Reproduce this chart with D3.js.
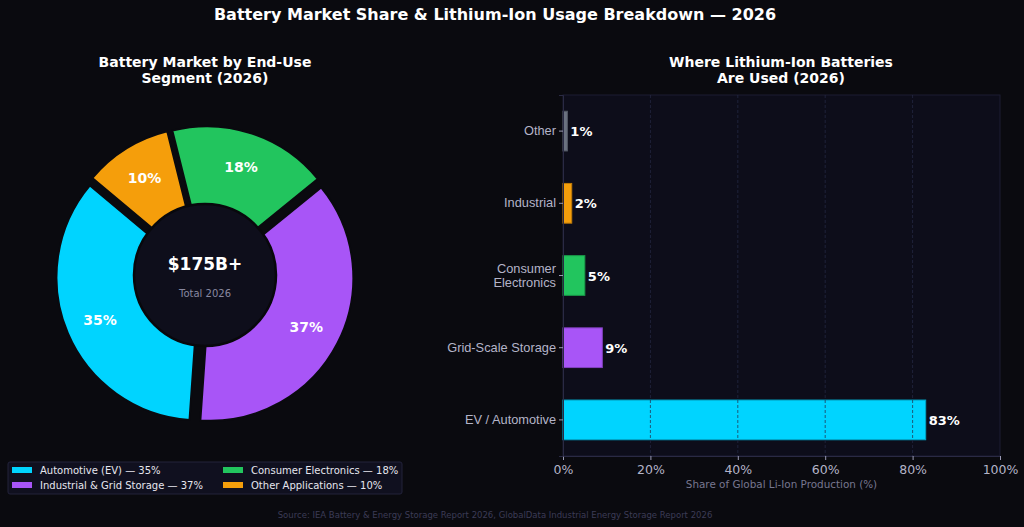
<!DOCTYPE html>
<html>
<head>
<meta charset="utf-8">
<script src="https://cdn.jsdelivr.net/npm/d3@7"></script>
<style>
  html, body { margin: 0; padding: 0; background: #0a0a0f; }
  svg { display: block; font-family: "DejaVu Sans", sans-serif; }
</style>
</head>
<body>
<div id="chartDiv"></div>
<script>
var width = 1024,
    height = 527;

// donut data (left)
var segNames = ["Automotive (EV)", "Industrial & Grid Storage", "Consumer Electronics", "Other Applications"];
var segValues = [35, 37, 18, 10];
var segColors = ["#00d4ff", "#a855f7", "#22c55e", "#f59e0b"];

// bar data (right), top to bottom
var useNames = ["Other", "Industrial", "Consumer\nElectronics", "Grid-Scale Storage", "EV / Automotive"];
var useValues = [1, 2, 5, 9, 83];
var useColors = ["#6b7280", "#f59e0b", "#22c55e", "#a855f7", "#00d4ff"];
var xTicks = [0, 20, 40, 60, 80, 100];

var svg = d3.select("#chartDiv")
    .append("svg")
    .attr("width", width)
    .attr("height", height);

svg.append("rect")
    .attr("width", width)
    .attr("height", height)
    .attr("fill", "#0a0a0f");

// main title
svg.append("text")
    .attr("x", 495)
    .attr("y", 20)
    .attr("text-anchor", "middle")
    .attr("fill", "#ffffff")
    .style("font-size", "16px")
    .style("font-weight", "bold")
    .text("Battery Market Share & Lithium-Ion Usage Breakdown \u2014 2026");

// ---------- donut ----------
var cx = 205, cy = 275, R = 143, r0 = 60, explode = 6;

function subTitle(x, lines) {
    var t = svg.append("text")
        .attr("x", x)
        .attr("y", 67)
        .attr("text-anchor", "middle")
        .attr("fill", "#ffffff")
        .style("font-size", "14px")
        .style("font-weight", "bold");
    lines.forEach(function (l, i) {
        t.append("tspan").attr("x", x).attr("dy", i ? 16 : 0).text(l);
    });
}
subTitle(205, ["Battery Market by End-Use", "Segment (2026)"]);

var deg = Math.PI / 180;
// start at 140deg (math), go counter-clockwise
var pie = d3.pie()
    .sort(null)
    .startAngle((90 - 140) * deg)
    .endAngle((90 - 140 - 360) * deg);

var arcs = pie(segValues);
var arc = d3.arc().innerRadius(r0).outerRadius(R);

var donut = svg.append("g").attr("transform", "translate(" + cx + "," + cy + ")");

function offset(d, dist) {
    var a = (d.startAngle + d.endAngle) / 2;
    return [Math.sin(a) * dist, -Math.cos(a) * dist];
}

donut.selectAll("path.wedge")
    .data(arcs)
    .enter().append("path")
    .attr("class", "wedge")
    .attr("d", arc)
    .attr("transform", function (d) {
        var o = offset(d, explode);
        return "translate(" + o[0] + "," + o[1] + ")";
    })
    .attr("fill", function (d, i) { return segColors[i]; })
    .attr("stroke", "#0a0a0f")
    .attr("stroke-width", 2);

donut.selectAll("text.pct")
    .data(arcs)
    .enter().append("text")
    .attr("class", "pct")
    .attr("x", function (d) { return offset(d, 114)[0]; })
    .attr("y", function (d) { return offset(d, 114)[1] + 5; })
    .attr("text-anchor", "middle")
    .attr("fill", "#ffffff")
    .style("font-size", "14px")
    .style("font-weight", "bold")
    .text(function (d) { return d.data + "%"; });

donut.append("circle")
    .attr("r", 71)
    .attr("fill", "#0e0e1b")
    .attr("stroke", "#08080c")
    .attr("stroke-width", 2.5);

donut.append("text")
    .attr("y", -5)
    .attr("text-anchor", "middle")
    .attr("fill", "#ffffff")
    .style("font-size", "17px")
    .style("font-weight", "bold")
    .text("$175B+");

donut.append("text")
    .attr("y", 22)
    .attr("text-anchor", "middle")
    .attr("fill", "#8888a0")
    .style("font-size", "10px")
    .text("Total 2026");

// legend
var legend = svg.append("g").attr("transform", "translate(8,462)");
legend.append("rect")
    .attr("width", 394)
    .attr("height", 32)
    .attr("rx", 2)
    .attr("fill", "#10101f")
    .attr("stroke", "#22223a")
    .attr("stroke-width", 1);

var legendItems = legend.selectAll("g.item")
    .data(segNames)
    .enter().append("g")
    .attr("class", "item")
    .attr("transform", function (d, i) {
        var col = Math.floor(i / 2), row = i % 2;
        return "translate(" + (col ? 215 : 4) + "," + (row ? 23 : 8) + ")";
    });
legendItems.append("rect")
    .attr("x", 0).attr("y", -3)
    .attr("width", 20).attr("height", 6)
    .attr("fill", function (d) { return segColors[segNames.indexOf(d)]; });
legendItems.append("text")
    .attr("x", 28)
    .attr("y", 4)
    .attr("fill", "#e6e6ee")
    .style("font-size", "10px")
    .text(function (d) { return d + " \u2014 " + segValues[segNames.indexOf(d)] + "%"; });

// ---------- bar chart ----------
subTitle(781, ["Where Lithium-Ion Batteries", "Are Used (2026)"]);

var m = { left: 563, right: 1000, top: 95, bottom: 456 };

var x = d3.scaleLinear().domain([0, 100]).range([m.left, m.right]);
var y = d3.scaleBand()
    .domain(useNames)
    .range([m.top, m.bottom])
    .paddingInner(0.45)
    .paddingOuter(0.225);

svg.append("rect")
    .attr("x", m.left).attr("y", m.top)
    .attr("width", m.right - m.left).attr("height", m.bottom - m.top)
    .attr("fill", "#0d0d1a")
    .attr("stroke", "#1c1c32")
    .attr("stroke-width", 1);

svg.append("g")
    .selectAll("rect")
    .data(useValues)
    .enter().append("rect")
    .attr("x", x(0))
    .attr("y", function (d, i) { return y(useNames[i]); })
    .attr("width", function (d) { return x(d) - x(0); })
    .attr("height", y.bandwidth())
    .attr("fill", function (d, i) { return useColors[i]; })
    .attr("stroke", function (d, i) { return d3.color(useColors[i]).darker(0.7); })
    .attr("stroke-width", 1);

// grid on top of bars
svg.append("g")
    .selectAll("line")
    .data(xTicks.slice(1, -1))
    .enter().append("line")
    .attr("x1", function (d) { return x(d); })
    .attr("x2", function (d) { return x(d); })
    .attr("y1", m.top).attr("y2", m.bottom)
    .attr("stroke", "#262a46")
    .attr("stroke-opacity", 0.9)
    .attr("stroke-width", 0.8)
    .attr("stroke-dasharray", "3,2");

svg.append("g")
    .selectAll("text")
    .data(useValues)
    .enter().append("text")
    .attr("x", function (d) { return x(d) + 3; })
    .attr("y", function (d, i) { return y(useNames[i]) + y.bandwidth() / 2 + 5; })
    .attr("fill", "#ffffff")
    .style("font-size", "13px")
    .style("font-weight", "bold")
    .text(function (d) { return d + "%"; });

// axes
var xAxis = svg.append("g")
    .attr("transform", "translate(0," + m.bottom + ")")
    .call(d3.axisBottom(x).tickValues(xTicks).tickSize(4).tickFormat(function (d) { return d + "%"; }));
var yAxis = svg.append("g")
    .attr("transform", "translate(" + m.left + ",0)")
    .call(d3.axisLeft(y).tickSize(4).tickFormat(""));

[xAxis, yAxis].forEach(function (a) {
    a.select(".domain").attr("stroke", "#2a2a44");
    a.selectAll(".tick line").attr("stroke", "#9a9ab4");
});
xAxis.selectAll(".tick text")
    .attr("fill", "#b4b4c8")
    .attr("dy", "0.9em")
    .style("font-size", "12.5px")
    .style("font-family", "DejaVu Sans, sans-serif");

yAxis.selectAll(".tick").each(function (d) {
    var lines = d.split("\n");
    var t = d3.select(this).append("text")
        .attr("x", -7)
        .attr("text-anchor", "end")
        .attr("fill", "#b4b4c8")
        .style("font-size", "12.8px");
    lines.forEach(function (l, i) {
        t.append("tspan")
            .attr("x", -7)
            .attr("y", (i - (lines.length - 1) / 2) * 14 + 4)
            .text(l);
    });
});

svg.append("text")
    .attr("x", (m.left + m.right) / 2)
    .attr("y", 488)
    .attr("text-anchor", "middle")
    .attr("fill", "#77778f")
    .style("font-size", "10.4px")
    .text("Share of Global Li-Ion Production (%)");

// source
svg.append("text")
    .attr("x", 495)
    .attr("y", 518)
    .attr("text-anchor", "middle")
    .attr("fill", "#3c3c56")
    .style("font-size", "8.5px")
    .text("Source: IEA Battery & Energy Storage Report 2026, GlobalData Industrial Energy Storage Report 2026");
</script>
</body>
</html>
